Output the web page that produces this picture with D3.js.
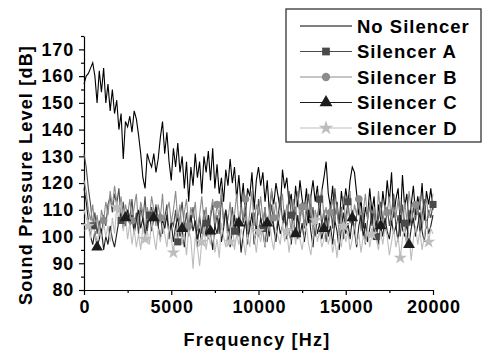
<!DOCTYPE html>
<html lang="en">
<head>
    <meta charset="UTF-8">
    <title>Sound Pressure Level</title>
    <script src="https://d3js.org/d3.v7.min.js"></script>
    <style>
        body { margin: 0; background: #fff; font-family: "Liberation Sans", Arial, sans-serif; }
        svg { display: block; }
        .tick text { font-size: 18px; font-weight: bold; letter-spacing: 0.8px; fill: #000; }
        .title { font-size: 18px; font-weight: bold; letter-spacing: 1.2px; fill: #000; }
        .legend-label { font-size: 18.5px; font-weight: bold; letter-spacing: 1px; fill: #000; }
    </style>
</head>
<body>
<svg id="chart" width="482" height="354"></svg>
<script>
    // frequency step between samples (Hz)
    const step = 125;

    const noSilencer = [
        157, 160, 161, 163, 165, 160, 150, 162, 154, 163, 150,
        157, 147, 155, 146, 151, 140, 146, 129, 143, 141,
        145, 139, 147, 144, 138, 131, 122, 118, 131, 128,
        126, 131, 124, 129, 137, 143, 131, 139, 128, 121,
        133, 126, 135, 124, 130, 118, 128, 113, 126, 119,
        131, 122, 128, 116, 130, 124, 132, 121, 133, 118,
        127, 116, 122, 113, 125, 119, 129, 120, 126, 114,
        123, 112, 120, 108, 118, 115, 124, 110, 121, 126,
        119, 124, 113, 121, 109, 117, 112, 120, 115, 110,
        125, 118, 122, 112, 116, 106, 119, 111, 121, 114,
        110, 118, 105, 115, 121, 113, 119, 108, 117, 122,
        128, 116, 111, 119, 106, 113, 104, 117, 110, 118,
        112, 121, 126, 124, 116, 108, 114, 103, 111, 107,
        118, 109, 115, 101, 112, 106, 117, 110, 121, 113,
        124, 107, 114, 118, 105, 123, 111, 116, 104, 112,
        119, 108, 115, 110, 120, 106, 117, 112, 118, 110
    ];

    const silencerA = [
        131, 126, 118, 112, 104, 109, 101, 106, 100, 108, 104,
        112, 115, 109, 116, 112, 118, 106, 113, 104, 110,
        107, 114, 103, 109, 101, 111, 106, 115, 102, 108,
        111, 106, 112, 104, 109, 101, 107, 112, 99, 106,
        104, 110, 98, 107, 113, 103, 109, 100, 105, 111,
        104, 96, 108, 101, 110, 105, 99, 107, 112, 103,
        108, 101, 115, 106, 110, 98, 104, 111, 102, 107,
        100, 113, 105, 110, 97, 106, 103, 109, 101, 114,
        107, 103, 111, 98, 105, 112, 104, 100, 108, 115,
        106, 110, 102, 117, 108, 104, 111, 99, 106, 113,
        103, 109, 116, 105, 111, 100, 107, 114, 104, 110,
        98, 106, 112, 103, 118, 109, 104, 111, 99, 107,
        113, 105, 110, 101, 108, 115, 103, 109, 97, 106,
        112, 104, 110, 100, 107, 113, 106, 102, 111, 104,
        109, 116, 103, 108, 100, 112, 105, 96, 110, 104,
        111, 106, 113, 101, 108, 114, 103, 110, 107, 112
    ];

    const silencerB = [
        121, 117, 110, 106, 112, 103, 108, 101, 110, 106, 113,
        108, 117, 111, 119, 113, 109, 115, 105, 112, 108,
        114, 106, 111, 116, 104, 113, 109, 102, 111, 107,
        115, 110, 104, 112, 107, 116, 103, 109, 113, 105,
        110, 117, 106, 112, 101, 109, 114, 104, 111, 107,
        113, 102, 108, 115, 106, 111, 100, 109, 114, 105,
        112, 107, 118, 104, 110, 106, 113, 101, 108, 116,
        105, 111, 107, 114, 102, 109, 117, 104, 112, 108,
        115, 106, 111, 103, 109, 118, 107, 113, 104, 110,
        116, 105, 112, 108, 102, 114, 109, 117, 106, 111,
        104, 113, 108, 115, 101, 110, 106, 112, 118, 107,
        111, 103, 109, 114, 106, 112, 100, 108, 115, 105,
        110, 117, 104, 112, 108, 114, 102, 109, 116, 106,
        113, 107, 111, 103, 117, 108, 105, 112, 109, 115,
        104, 111, 107, 114, 109, 102, 113, 106, 117, 110,
        105, 112, 108, 115, 103, 110, 114, 107, 111, 116
    ];

    const silencerC = [
        118, 113, 106, 100, 97, 102, 96, 99, 103, 95, 100,
        97, 104, 99, 96, 101, 106, 109, 103, 107, 110,
        104, 108, 101, 106, 110, 103, 107, 100, 105, 109,
        102, 107, 111, 104, 99, 106, 103, 108, 101, 105,
        98, 104, 107, 100, 103, 96, 105, 101, 108, 102,
        106, 99, 103, 97, 105, 100, 108, 102, 95, 104,
        101, 107, 98, 103, 110, 104, 96, 102, 108, 100,
        105, 94, 101, 106, 99, 103, 109, 97, 104, 100,
        107, 102, 96, 105, 100, 108, 103, 98, 106, 101,
        104, 109, 99, 103, 97, 106, 101, 108, 100, 105,
        98, 104, 110, 102, 96, 107, 101, 105, 99, 103,
        108, 100, 104, 97, 106, 102, 95, 103, 109, 101,
        105, 99, 107, 102, 96, 104, 108, 100, 105, 98,
        103, 109, 101, 106, 97, 104, 100, 107, 102, 99,
        106, 101, 104, 98, 108, 103, 100, 105, 97, 103,
        107, 100, 104, 109, 102, 98, 106, 101, 104, 108
    ];

    const silencerD = [
        110, 107, 104, 99, 106, 101, 97, 103, 99, 105, 100,
        104, 98, 107, 101, 111, 106, 113, 102, 108, 99,
        105, 97, 103, 96, 101, 95, 104, 99, 102, 97,
        106, 100, 95, 103, 98, 105, 101, 96, 104, 99,
        94, 102, 98, 106, 97, 101, 93, 103, 99, 88,
        100, 96, 89, 98, 104, 95, 101, 97, 103, 94,
        99, 92, 105, 100, 96, 102, 98, 107, 95, 101,
        97, 103, 99, 93, 101, 96, 105, 100, 94, 102,
        98, 104, 96, 101, 107, 99, 95, 103, 100, 97,
        105, 98, 102, 94, 100, 106, 97, 103, 99, 95,
        101, 104, 97, 93, 100, 106, 98, 102, 96, 99,
        103, 97, 101, 94, 99, 92, 100, 96, 104, 98,
        102, 95, 99, 105, 97, 101, 94, 100, 98, 103,
        96, 101, 106, 99, 95, 102, 97, 104, 100, 93,
        98, 103, 96, 100, 92, 99, 104, 97, 101, 91,
        99, 104, 97, 102, 95, 100, 106, 98, 103, 101
    ];

    const seriesNames = ["No Silencer", "Silencer A", "Silencer B", "Silencer C", "Silencer D"];
    const seriesValues = [noSilencer, silencerA, silencerB, silencerC, silencerD];
    const seriesColors = ["#000000", "#4a4a4a", "#8c8c8c", "#1c1c1c", "#bdbdbd"];
    const seriesSymbols = [null, d3.symbolSquare, d3.symbolCircle, d3.symbolTriangle, d3.symbolStar];
    const symbolSizes = [0, 50, 45, 60, 55];
    const markerOffsets = [0, 4, 9, 6, 2];
    const markerEvery = 13;

    const yTicks = [80, 90, 100, 110, 120, 130, 140, 150, 160, 170];
    const xTicks = [0, 5000, 10000, 15000, 20000];

    const svg = d3.select("#chart");
    const margin = {left: 84, right: 49, top: 36, bottom: 64};
    const W = 482, H = 354;

    const x = d3.scaleLinear().domain([0, 20000]).range([margin.left, W - margin.right]);
    const y = d3.scaleLinear().domain([80, 175]).range([H - margin.bottom, margin.top]);

    // minor ticks
    svg.append("g")
        .attr("transform", `translate(0,${y(80)})`)
        .call(d3.axisBottom(x).tickValues(d3.range(2500, 20000, 5000)).tickSize(3).tickFormat(""))
        .call(g => g.select(".domain").remove());
    svg.append("g")
        .attr("transform", `translate(${x(0)},0)`)
        .call(d3.axisLeft(y).tickValues(d3.range(85, 176, 10)).tickSize(3).tickFormat(""))
        .call(g => g.select(".domain").remove());

    const xAxis = svg.append("g")
        .attr("transform", `translate(0,${y(80)})`)
        .call(d3.axisBottom(x).tickValues(xTicks).tickSize(5).tickSizeOuter(0).tickPadding(5).tickFormat(d3.format("d")));
    xAxis.selectAll(".tick text").attr("dx", "0.4px");

    const yAxis = svg.append("g")
        .attr("transform", `translate(${x(0)},0)`)
        .call(d3.axisLeft(y).tickValues(yTicks).tickSize(5).tickSizeOuter(0).tickPadding(5));

    svg.selectAll(".domain, .tick line").attr("stroke", "#000").attr("stroke-width", 1.2);

    const line = d3.line()
        .x((d, i) => x(i * step))
        .y(d => y(d));

    seriesValues.forEach((vals, s) => {
        svg.append("path")
            .datum(vals)
            .attr("fill", "none")
            .attr("stroke", seriesColors[s])
            .attr("stroke-width", 1.1)
            .attr("d", line);
    });

    seriesValues.forEach((vals, s) => {
        if (!seriesSymbols[s]) return;
        const pts = vals.map((v, i) => ({i, v})).filter(d => d.i % markerEvery === markerOffsets[s]);
        svg.append("g").selectAll("path")
            .data(pts)
            .join("path")
            .attr("transform", d => `translate(${x(d.i * step)},${y(d.v)})`)
            .attr("d", d3.symbol(seriesSymbols[s], symbolSizes[s]))
            .attr("fill", seriesColors[s]);
    });

    // axis titles
    svg.append("text")
        .attr("class", "title")
        .attr("x", 257)
        .attr("y", 346)
        .attr("text-anchor", "middle")
        .text("Frequency [Hz]");

    svg.append("text")
        .attr("class", "title")
        .attr("transform", "translate(32,175) rotate(-90)")
        .attr("text-anchor", "middle")
        .text("Sound Pressure Level [dB]");

    // legend
    const legend = svg.append("g");
    legend.append("rect")
        .attr("x", 286).attr("y", 9)
        .attr("width", 195).attr("height", 133)
        .attr("fill", "#fff")
        .attr("stroke", "#333")
        .attr("stroke-width", 1.3);

    const rowY = d3.scalePoint().domain(seriesNames).range([26, 128]);

    seriesNames.forEach((name, s) => {
        const ry = rowY(name);
        legend.append("line")
            .attr("x1", 300).attr("x2", 352)
            .attr("y1", ry).attr("y2", ry)
            .attr("stroke", seriesColors[s])
            .attr("stroke-width", 1);
        if (seriesSymbols[s]) {
            legend.append("path")
                .attr("transform", `translate(326,${ry})`)
                .attr("d", d3.symbol(seriesSymbols[s], symbolSizes[s] * 1.2))
                .attr("fill", seriesColors[s]);
        }
        legend.append("text")
            .attr("class", "legend-label")
            .attr("x", 357)
            .attr("y", ry)
            .attr("dy", "0.36em")
            .text(name);
    });
</script>
</body>
</html>
